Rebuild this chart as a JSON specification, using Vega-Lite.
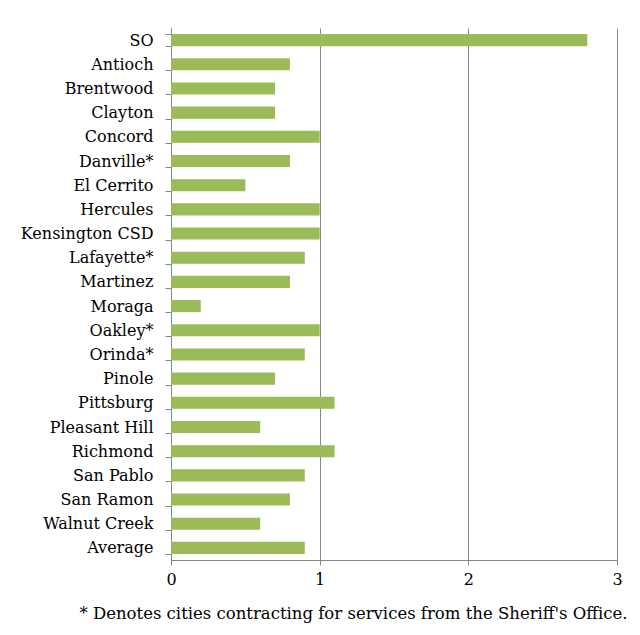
{
  "$schema": "https://vega.github.io/schema/vega-lite/v6.json",
  "autosize": {"type": "none"},
  "padding": {"left": 171, "top": 28, "right": 23, "bottom": 75},
  "width": 446,
  "height": 532,
  "background": "white",
  "config": {"view": {"stroke": null}},
  "data": {"values": [
    {"agency": "SO", "value": 2.8},
    {"agency": "Antioch", "value": 0.8},
    {"agency": "Brentwood", "value": 0.7},
    {"agency": "Clayton", "value": 0.7},
    {"agency": "Concord", "value": 1.0},
    {"agency": "Danville*", "value": 0.8},
    {"agency": "El Cerrito", "value": 0.5},
    {"agency": "Hercules", "value": 1.0},
    {"agency": "Kensington CSD", "value": 1.0},
    {"agency": "Lafayette*", "value": 0.9},
    {"agency": "Martinez", "value": 0.8},
    {"agency": "Moraga", "value": 0.2},
    {"agency": "Oakley*", "value": 1.0},
    {"agency": "Orinda*", "value": 0.9},
    {"agency": "Pinole", "value": 0.7},
    {"agency": "Pittsburg", "value": 1.1},
    {"agency": "Pleasant Hill", "value": 0.6},
    {"agency": "Richmond", "value": 1.1},
    {"agency": "San Pablo", "value": 0.9},
    {"agency": "San Ramon", "value": 0.8},
    {"agency": "Walnut Creek", "value": 0.6},
    {"agency": "Average", "value": 0.9}
  ]},
  "mark": {"type": "bar", "color": "#9BBB59"},
  "encoding": {
    "y": {
      "field": "agency",
      "type": "nominal",
      "sort": null,
      "scale": {"paddingInner": 0.5, "paddingOuter": 0.25},
      "axis": {
        "title": null,
        "tickBand": "extent",
        "tickSize": 6,
        "tickColor": "#868686",
        "domainColor": "#868686",
        "labelPadding": 12,
        "labelFont": "DejaVu Serif",
        "labelFontSize": 16,
        "labelColor": "#000000"
      }
    },
    "x": {
      "field": "value",
      "type": "quantitative",
      "scale": {"domain": [0, 3], "nice": false},
      "axis": {
        "values": [0, 1, 2, 3],
        "format": "d",
        "grid": true,
        "gridColor": "#868686",
        "gridWidth": 1,
        "tickSize": 5,
        "tickColor": "#868686",
        "domainColor": "#868686",
        "labelFlush": false,
        "labelPadding": 6,
        "labelFont": "DejaVu Serif",
        "labelFontSize": 16,
        "labelColor": "#000000",
        "title": "* Denotes cities contracting for services from the Sheriff's Office.",
        "titleFont": "DejaVu Serif",
        "titleFontSize": 16.5,
        "titleFontWeight": "normal",
        "titleColor": "#000000",
        "titleX": 182,
        "titleY": 58,
        "titleBaseline": "alphabetic",
        "titleAnchor": null,
        "titleAlign": "center"
      }
    }
  }
}
